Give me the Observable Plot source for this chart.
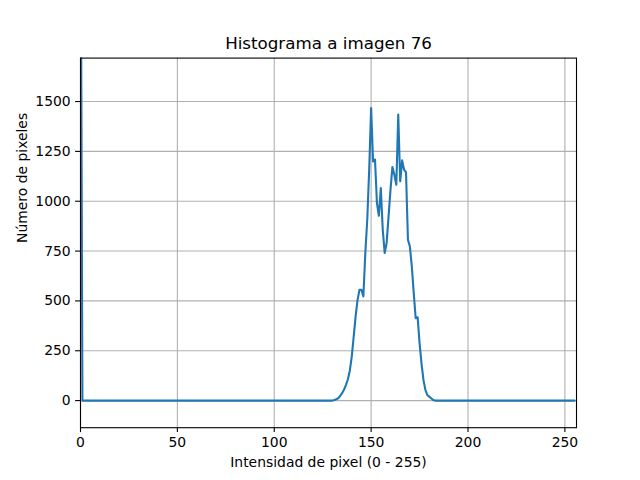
<!DOCTYPE html>
<html><head><meta charset="utf-8">
<script src="https://cdn.jsdelivr.net/npm/d3@7"></script>
<script src="https://cdn.jsdelivr.net/npm/@observablehq/plot@0.6"></script>
<style>body{margin:0;background:#fff}</style>
</head><body><div id="chart"></div>
<script>
const title = "Histograma a imagen 76";
const xLabel = "Intensidad de pixel (0 - 255)";
const yLabel = "Número de pixeles";
const xTicks = [0, 50, 100, 150, 200, 250];
const yTicks = [0, 250, 500, 750, 1000, 1250, 1500];
// pixel counts per intensity level 0..255
const counts = [
  2720,
  0,0,0,0,0,0,0,0,0,0,
  0,0,0,0,0,0,0,0,0,0,
  0,0,0,0,0,0,0,0,0,0,
  0,0,0,0,0,0,0,0,0,0,
  0,0,0,0,0,0,0,0,0,0,
  0,0,0,0,0,0,0,0,0,0,
  0,0,0,0,0,0,0,0,0,0,
  0,0,0,0,0,0,0,0,0,0,
  0,0,0,0,0,0,0,0,0,0,
  0,0,0,0,0,0,0,0,0,0,
  0,0,0,0,0,0,0,0,0,0,
  0,0,0,0,0,0,0,0,0,0,
  0,0,0,0,0,0,0,0,0,0,
  3, 7, 12, 23, 37, 54, 79, 107, 150, 221,
  321, 422, 505, 556, 556, 522, 740, 907, 1158, 1468,
  1200, 1209, 991, 927, 1066, 857, 740, 790, 924, 1058,
  1172, 1133, 1083, 1435, 1100, 1205, 1158, 1145, 807, 773,
  673, 539, 413, 418, 288, 187, 104, 54, 28, 20,
  12, 3,
  0,0,0,0,0,0,0,0,0,0,
  0,0,0,0,0,0,0,0,0,0,
  0,0,0,0,0,0,0,0,0,0,
  0,0,0,0,0,0,0,0,0,0,
  0,0,0,0,0,0,0,0,0,0,
  0,0,0,0,0,0,0,0,0,0,
  0,0,0,0,0,0,0,0,0,0,
  0,0,0
];
const intensity = d3.range(counts.length);
const data = intensity.map((x, i) => ({x, y: counts[i]}));

const gridStyle = {stroke: "#b0b0b0", strokeOpacity: 1, strokeWidth: 1.1};
const chart = Plot.plot({
  width: 640, height: 480,
  marginLeft: 80, marginRight: 64, marginTop: 57.6, marginBottom: 52.8,
  style: {fontFamily: "'DejaVu Sans', sans-serif", fontSize: "13.9px", background: "white", color: "black"},
  x: {domain: [0, 256]},
  y: {domain: [-136, 1718]},
  marks: [
    Plot.gridX(xTicks, gridStyle),
    Plot.gridY(yTicks, gridStyle),
    Plot.line(data, {x: "x", y: "y", stroke: "#1f77b4", strokeWidth: 2.1, clip: true}),
    Plot.frame({stroke: "black", strokeWidth: 1.1}),
    Plot.axisX(xTicks, {tickSize: 4.9, tickPadding: 4.9, label: null, strokeWidth: 1.1, fill: "black", fontSize: 13.9}),
    Plot.axisY(yTicks, {tickSize: 4.9, tickPadding: 4.9, label: null, strokeWidth: 1.1, fill: "black", fontSize: 13.9, tickFormat: d3.format("d")}),
    Plot.text([title], {text: d => d, frameAnchor: "top", dy: -9, lineAnchor: "bottom", fontSize: 16.7, fill: "black"}),
    Plot.text([xLabel], {text: d => d, frameAnchor: "bottom", dy: 39.5, lineAnchor: "bottom", fontSize: 13.9, fill: "black"}),
    Plot.text([yLabel], {text: d => d, frameAnchor: "left", dx: -58, rotate: -90, lineAnchor: "middle", fontSize: 13.9, fill: "black"})
  ]
});
document.getElementById("chart").appendChild(chart);
</script>
</body></html>
